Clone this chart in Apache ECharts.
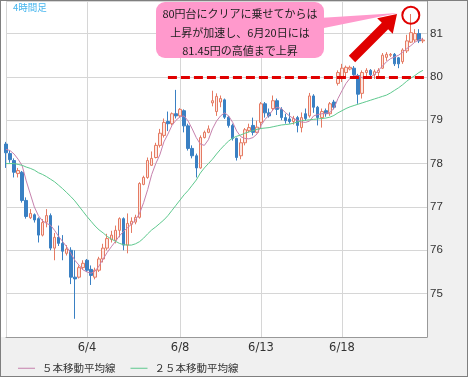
<!DOCTYPE html>
<html>
<head>
<meta charset="utf-8">
<script src="https://cdn.jsdelivr.net/npm/echarts/dist/echarts.min.js"></script>
<style>
  html, body { margin: 0; padding: 0; background: #fff; }
  #chart { width: 468px; height: 377px; box-sizing: border-box; border: 1px solid #7f7f7f; background: #f0f0f0; }
</style>
</head>
<body>
<div id="chart"></div>
<script>
// 4時間足 ローソク足 (始値・終値・安値・高値)
const openPrices = [
  78.45, 78.23, 78.07, 77.77, 77.8, 77.15, 76.75, 76.82, 76.73, 76.35,
  76.65, 76.8, 76.05, 76.3, 76.16, 75.93, 76.0, 75.38, 75.38, 75.6,
  75.77, 75.56, 75.38, 75.54, 75.8, 76.05, 76.25, 76.23, 76.46, 76.73,
  76.12, 76.6, 76.65, 76.76, 77.52, 77.68, 77.96, 78.14, 78.42, 78.65,
  78.97, 78.92, 79.15, 79.1, 79.22, 78.87, 78.35, 78.18, 77.9, 78.6,
  78.72, 79.4, 79.2, 79.42, 79.47, 79.07, 78.88, 78.58, 78.18, 78.48,
  78.76, 78.88, 78.72, 78.95, 79.38, 79.17, 79.27, 79.45, 79.25, 79.06,
  79.03, 78.97, 79.06, 78.83, 79.15, 79.1, 79.56, 79.3, 79.06, 79.22,
  79.15, 79.42, 79.85, 80.0, 80.1, 80.18, 80.2, 80.03, 79.62, 80.1,
  80.15, 80.05, 80.1, 80.2, 80.45, 80.5, 80.52, 80.44, 80.35, 80.6,
  80.8, 80.85, 81.0, 80.83
];
const closePrices = [
  78.25, 78.09, 77.8, 77.84, 77.15, 76.78, 76.85, 76.7, 76.35, 76.64,
  76.8, 76.05, 76.3, 76.16, 75.98, 76.03, 75.38, 75.34, 75.6, 75.7,
  75.54, 75.42, 75.54, 75.8, 76.05, 76.27, 76.35, 76.46, 76.73, 76.12,
  76.62, 76.67, 76.76, 77.54, 77.68, 78.07, 78.12, 78.42, 78.7, 78.95,
  78.92, 79.15, 79.1, 79.25, 78.87, 78.35, 78.18, 77.9, 78.6, 78.72,
  78.8, 79.45, 79.55, 79.5, 79.07, 78.88, 78.58, 78.14, 78.48, 78.78,
  78.83, 78.72, 78.84, 79.38, 79.17, 79.1, 79.45, 79.25, 79.06, 78.99,
  78.97, 79.04, 78.88, 79.06, 79.04, 79.56, 79.3, 79.06, 79.2, 79.15,
  79.38, 79.3, 80.1, 80.2, 80.22, 80.22, 80.05, 79.6, 80.1, 80.15,
  80.05, 80.12, 80.15, 80.5, 80.52, 80.52, 80.3, 80.3, 80.62, 80.83,
  81.02, 81.0, 80.83, 80.85
];
const lowPrices = [
  77.9, 78.02, 77.68, 77.68, 77.1, 76.73, 76.72, 76.64, 76.18, 76.32,
  76.53, 76.0, 75.77, 76.1, 75.77, 75.88, 75.22, 74.42, 75.35, 75.55,
  75.5, 75.2, 75.33, 75.5, 75.72, 76.0, 76.18, 76.16, 76.3, 76.0,
  75.93, 76.4, 76.6, 76.73, 77.5, 77.65, 77.95, 78.12, 78.37, 78.6,
  78.75, 78.88, 79.04, 79.06, 78.72, 78.3, 78.12, 77.68, 77.88, 78.58,
  78.7, 79.32, 79.1, 79.3, 79.03, 78.83, 78.53, 78.07, 78.1, 78.42,
  78.72, 78.65, 78.7, 78.8, 79.06, 79.06, 79.22, 79.12, 79.0, 78.92,
  78.92, 78.9, 78.72, 78.72, 78.99, 79.06, 79.17, 78.88, 78.83, 79.08,
  79.1, 79.25, 79.8, 79.88, 79.98, 80.15, 79.98, 79.38, 79.5, 80.0,
  80.0, 79.95, 80.0, 80.18, 80.37, 80.46, 80.25, 80.2, 80.3, 80.55,
  80.78, 80.8, 80.78, 80.78
];
const highPrices = [
  78.5, 78.3, 78.12, 77.9, 77.83, 77.22, 76.95, 76.85, 76.76, 76.72,
  76.95, 76.85, 76.4, 76.57, 76.35, 76.12, 76.07, 76.0, 75.65, 75.77,
  75.8, 75.65, 75.6, 75.85, 76.15, 76.38, 76.45, 76.57, 76.76, 76.76,
  76.85, 76.76, 76.82, 77.57, 77.72, 78.14, 78.28, 78.48, 78.8, 79.04,
  79.2, 79.18, 79.7, 79.28, 79.25, 78.92, 78.42, 78.23, 78.65, 78.76,
  78.88, 79.68, 79.62, 79.57, 79.5, 79.1, 78.92, 78.6, 78.58, 78.82,
  78.92, 79.06, 78.99, 79.42, 79.42, 79.27, 79.57, 79.5, 79.3, 79.15,
  79.18, 79.1, 79.1, 79.18, 79.27, 79.63, 79.6, 79.33, 79.27, 79.27,
  79.42, 79.47, 80.15, 80.3, 80.26, 80.26, 80.25, 80.07, 80.15, 80.2,
  80.18, 80.17, 80.2, 80.55, 80.57, 80.55, 80.55, 80.46, 80.66, 80.97,
  81.45, 81.1, 81.1, 80.9
];
// 移動平均線 (チャートから読み取り)
const ma5 = [
  78.33, 78.3, 78.22, 78.1, 77.95, 77.6, 77.3, 77.0, 76.8, 76.68,
  76.62, 76.58, 76.46, 76.32, 76.2, 76.08, 75.93, 75.77, 75.66, 75.55,
  75.5, 75.47, 75.52, 75.64, 75.8, 75.95, 76.08, 76.2, 76.33, 76.43,
  76.52, 76.6, 76.7, 76.85, 77.1, 77.4, 77.75, 78.0, 78.2, 78.5,
  78.68, 78.88, 79.0, 79.08, 79.1, 78.98, 78.8, 78.6, 78.45, 78.42,
  78.55, 78.8, 78.98, 79.1, 79.17, 79.1, 78.95, 78.75, 78.62, 78.58,
  78.57, 78.6, 78.68, 78.88, 79.02, 79.12, 79.25, 79.3, 79.27, 79.18,
  79.1, 79.04, 79.0, 78.96, 78.95, 78.98, 79.1, 79.13, 79.15, 79.16,
  79.18, 79.27, 79.5, 79.68, 79.85, 79.97, 80.03, 80.02, 79.98, 79.96,
  80.0, 80.05, 80.15, 80.25, 80.35, 80.42, 80.46, 80.5, 80.57, 80.65,
  80.72, 80.8, 80.85, 80.88
];
const ma25 = [
  78.0, 78.0, 78.0, 77.98, 77.96, 77.92, 77.89, 77.85, 77.79, 77.75,
  77.7, 77.64, 77.58, 77.5, 77.42, 77.33, 77.24, 77.14, 77.02, 76.9,
  76.78, 76.67, 76.56, 76.47, 76.4, 76.32, 76.26, 76.21, 76.16, 76.13,
  76.12, 76.12, 76.15, 76.2, 76.28, 76.38, 76.47, 76.54, 76.62, 76.7,
  76.8, 76.92, 77.04, 77.16, 77.28, 77.38, 77.5, 77.62, 77.78, 77.9,
  78.0, 78.1, 78.22, 78.33, 78.43, 78.52, 78.59, 78.63, 78.66, 78.7,
  78.73, 78.76, 78.79, 78.81, 78.82, 78.83, 78.85, 78.87, 78.89, 78.9,
  78.91, 78.93, 78.96, 78.99, 79.0, 79.01, 79.02, 79.03, 79.04, 79.05,
  79.07, 79.11, 79.17, 79.22, 79.27, 79.31, 79.34, 79.37, 79.4, 79.43,
  79.46, 79.49, 79.52, 79.55, 79.58, 79.63, 79.69, 79.75, 79.82, 79.9,
  79.97, 80.03, 80.1, 80.15
];
// x軸の日付ラベル (ローソク足の位置)
const tickIndex = [20, 43, 63, 83];
const tickLabels = ['6/4', '6/8', '6/13', '6/18'];

const ma5Name = '５本移動平均線';
const ma25Name = '２５本移動平均線';
const calloutLines = ['80円台にクリアに乗せてからは', '上昇が加速し、6月20日には', '81.45円の高値まで上昇'];
const resistanceLevel = 80;
const resistanceFrom = 40;
const peakIndex = 100;
const peakPrice = 81.42;

// 最後に空き枠を1本
const categories = openPrices.map((v, i) => String(i)).concat(['']);
const candles = openPrices.map((o, i) => [o, closePrices[i], lowPrices[i], highPrices[i]]);

function arrowPoints(from, to, shaftHalf, headHalf, headLen) {
  const dx = to[0] - from[0];
  const dy = to[1] - from[1];
  const len = Math.hypot(dx, dy);
  const ux = dx / len, uy = dy / len;
  const nx = -uy, ny = ux;
  const bx = to[0] - ux * headLen, by = to[1] - uy * headLen;
  return [
    [from[0] + nx * shaftHalf, from[1] + ny * shaftHalf],
    [bx + nx * shaftHalf, by + ny * shaftHalf],
    [bx + nx * headHalf, by + ny * headHalf],
    to,
    [bx - nx * headHalf, by - ny * headHalf],
    [bx - nx * shaftHalf, by - ny * shaftHalf],
    [from[0] - nx * shaftHalf, from[1] - ny * shaftHalf],
  ];
}

const myChart = echarts.init(document.getElementById('chart'));

const options = {
  animation: false,
  backgroundColor: '#f0f0f0',
  grid: {
    left: 5,
    right: 40,
    top: 0,
    bottom: 39,
    show: true,
    backgroundColor: '#fff',
    borderWidth: 0,
  },
  legend: {
    data: [ma5Name, ma25Name],
    left: 12,
    top: 357,
    icon: 'rect',
    itemWidth: 17,
    itemHeight: 1,
    itemGap: 15,
    textStyle: {
      fontFamily: 'Noto Sans CJK JP',
      fontSize: 10.5,
      color: '#333',
      padding: [0, 0, 0, 2],
    },
  },
  xAxis: {
    type: 'category',
    data: categories,
    boundaryGap: false,
    axisLine: { show: true, lineStyle: { color: '#999', width: 1 } },
    axisTick: { show: false },
    axisLabel: {
      interval: (idx) => tickIndex.includes(idx),
      formatter: (val, idx) => tickLabels[tickIndex.indexOf(idx)] || '',
      color: '#333',
      fontFamily: 'DejaVu Sans',
      fontSize: 11.5,
      margin: 5,
    },
    splitLine: {
      show: true,
      interval: (idx) => idx === 0 || tickIndex.includes(idx),
      lineStyle: { color: '#d6d6d6', width: 1 },
    },
  },
  yAxis: {
    type: 'value',
    position: 'right',
    min: 74,
    max: 81.75,
    interval: 1,
    axisLine: { show: true, lineStyle: { color: '#999', width: 1 } },
    axisTick: { show: false },
    axisLabel: {
      showMinLabel: false,
      showMaxLabel: false,
      margin: 3,
      color: '#333',
      fontFamily: 'Liberation Sans',
      fontSize: 11.5,
    },
    splitLine: { show: true, lineStyle: { color: '#d6d6d6', width: 1 } },
  },
  series: [
    {
      name: 'ローソク足',
      type: 'candlestick',
      data: candles,
      barWidth: 3,
      clip: false,
      z: 2,
      itemStyle: {
        color: '#fde8e2',
        color0: '#3a80c3',
        borderColor: '#e57b63',
        borderColor0: '#3a80c3',
        borderWidth: 1,
      },
    },
    {
      name: ma5Name,
      type: 'line',
      data: ma5,
      symbol: 'none',
      color: '#c681ad',
      lineStyle: { color: '#c681ad', width: 1 },
      z: 3,
    },
    {
      name: ma25Name,
      type: 'line',
      data: ma25,
      symbol: 'none',
      color: '#5ec98e',
      lineStyle: { color: '#5ec98e', width: 1 },
      z: 3,
    },
    {
      name: 'annotation',
      type: 'line',
      data: [],
      z: 5,
      markLine: {
        silent: true,
        symbol: ['none', 'none'],
        label: { show: false },
        lineStyle: { color: '#e00000', width: 3, type: [9, 4] },
        emphasis: { disabled: true },
        data: [[{ coord: [resistanceFrom, resistanceLevel] }, { coord: [categories.length - 1, resistanceLevel] }]],
      },
      markPoint: {
        silent: true,
        symbol: 'circle',
        symbolSize: 17,
        label: { show: false },
        itemStyle: { color: 'rgba(0,0,0,0)', borderColor: '#e00000', borderWidth: 2 },
        data: [{ coord: [peakIndex, peakPrice] }],
      },
    },
  ],
  graphic: [
    { type: 'rect', shape: { x: 0, y: 0, width: 5, height: 336 }, style: { fill: '#fff' }, z: 0, silent: true },
    {
      type: 'text',
      style: { text: '4時間足', x: 12, y: 2, fill: '#45b5ee', fontFamily: 'Noto Sans CJK JP', fontSize: 9.5 },
      z: 10,
    },
    {
      type: 'polygon',
      shape: { points: [[318, 17], [397, 12], [318, 28]] },
      style: { fill: '#ff99cc' },
      z: 10,
    },
    {
      type: 'rect',
      shape: { x: 155, y: 1, width: 168, height: 56, r: 9 },
      style: { fill: '#ff99cc' },
      z: 10,
    },
    {
      type: 'text',
      style: {
        text: calloutLines.join('\n'),
        x: 239,
        y: 31.5,
        align: 'center',
        verticalAlign: 'middle',
        fill: '#222',
        fontFamily: 'Noto Sans CJK JP',
        fontSize: 11,
        lineHeight: 18.5,
      },
      z: 11,
    },
    {
      type: 'polygon',
      shape: { points: arrowPoints([351, 58], [396, 13], 4.5, 11, 17) },
      style: { fill: '#e00000' },
      z: 10,
    },
  ],
};

myChart.setOption(options);
</script>
</body>
</html>
